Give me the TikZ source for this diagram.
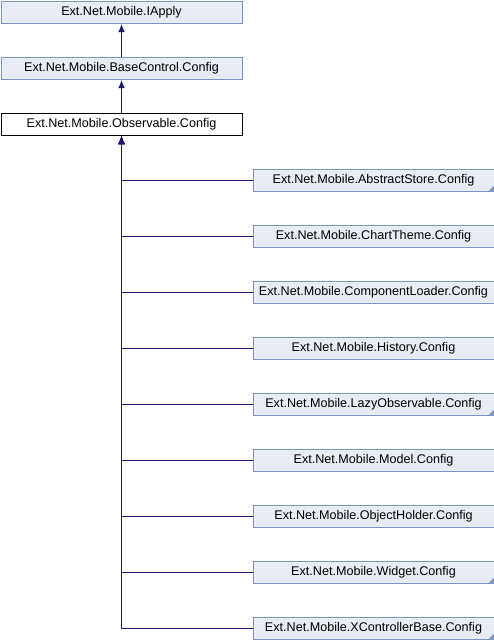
\documentclass[tikz,border=0pt]{standalone}
\usepackage{fontspec}
\setmainfont{Liberation Sans}
\usetikzlibrary{arrows.meta}
\definecolor{boxfill}{HTML}{E8ECF4}
\definecolor{boxline}{HTML}{7D93C4}
\definecolor{edgecol}{HTML}{191970}
\tikzset{
  cls/.style={draw=boxline, fill=boxfill, line width=1pt, minimum width=241pt, minimum height=22pt, inner sep=0pt, font=\fontsize{12.6}{14}\selectfont, anchor=north west},
  cur/.style={cls, draw=black, fill=white},
  edge/.style={draw=edgecol, line width=1pt, -{Latex[length=8pt,width=6.5pt]}},
  fold/.style={fill=boxline, draw=none}
}
\begin{document}
\begin{tikzpicture}[x=1pt,y=-1pt]
\useasboundingbox (0,0) rectangle (494,640);
\node[cls] (iapply) at (0.5,1) {Ext.Net.Mobile.IApply};
\node[cls] (base) at (0.5,57) {Ext.Net.Mobile.BaseControl.Config};
\node[cur] (obs) at (0.5,113) {Ext.Net.Mobile.Observable.Config};
\draw[edge] (base.north) -- (iapply.south);
\draw[edge] (obs.north) -- (base.south);
\foreach \n/\t/\k/\f in {as/AbstractStore/0/1, ct/ChartTheme/1/0, cl/ComponentLoader/2/0, hi/History/3/0, lo/LazyObservable/4/1, mo/Model/5/0, oh/ObjectHolder/6/0, wi/Widget/7/1, xc/XControllerBase/8/1}{
  \node[cls] (\n) at (252.5,169+56*\k) {Ext.Net.Mobile.\t.Config};
  \ifnum\f=1
    \fill[fold] ([xshift=-0.5pt,yshift=6.5pt]\n.south east) -- ([xshift=-0.5pt,yshift=0.5pt]\n.south east) -- ([xshift=-6.5pt,yshift=0.5pt]\n.south east) -- cycle;
  \fi
  \draw[edge] (\n.west) -| (obs.south);
}
\end{tikzpicture}
\end{document}
